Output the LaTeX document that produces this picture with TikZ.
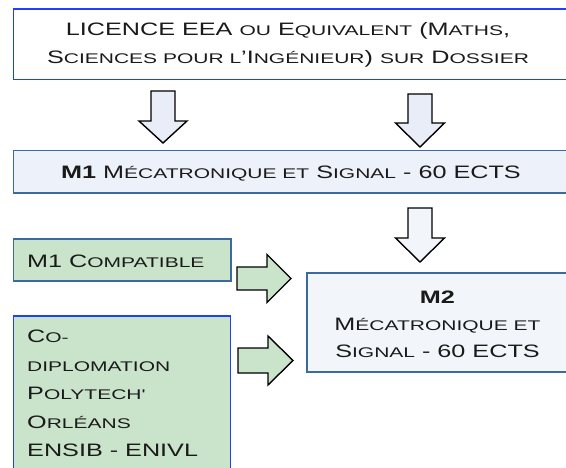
\documentclass[tikz,border=0pt]{standalone}
\usepackage{fontspec}
\setmainfont[FakeStretch=1.4]{Liberation Sans}
\newfontfamily\petitfont[FakeStretch=1.5]{Liberation Sans}
\usetikzlibrary{positioning}

\definecolor{edgeblue}{HTML}{1F3FFF}
\definecolor{edgegrey}{HTML}{3A6A9E}
\definecolor{paleblue}{HTML}{EDF1F9}
\definecolor{paleblue2}{HTML}{F2F5FA}
\definecolor{palegreen}{HTML}{C9E4CA}
\definecolor{arrowblue}{HTML}{E8EDF7}
\definecolor{inkgrey}{HTML}{1A1A1A}

\newcommand\petit[1]{{\petitfont\fontsize{14}{14}\selectfont #1}}
\newcommand\grand{\fontsize{18}{28}\selectfont}
% block arrows: centre, top, head base, tip, half shaft, half head
\newcommand\blockdown[6]{(#1-#5,#2) -- (#1+#5,#2) -- (#1+#5,#3) -- (#1+#6,#3) -- (#1,#4) -- (#1-#6,#3) -- (#1-#5,#3) -- cycle}
\newcommand\blockright[6]{(#2,#1-#5) -- (#3,#1-#5) -- (#3,#1-#6) -- (#4,#1) -- (#3,#1+#6) -- (#3,#1+#5) -- (#2,#1+#5) -- cycle}

\begin{document}
\begin{tikzpicture}[x=1pt, y=-1pt,
    box/.style={line width=1.6pt, inner sep=0pt, anchor=north west},
    bluebox/.style={box, draw=edgeblue, fill=white},
    greybox/.style={box, draw=edgegrey, fill=paleblue},
    greenbox/.style={box, draw=edgegrey, fill=palegreen},
    txt/.style={text=inkgrey, font=\grand, inner sep=0pt},
    blockarrow/.style={draw=black, line width=1.4pt, line join=miter}]
    \useasboundingbox (0,0) rectangle (566,467);
    \clip (0,0) rectangle (566,467);

    % boxes
    \node[bluebox, minimum width=560pt, minimum height=70.5pt] (licence) at (12.5,8) {};
    \node[greybox, minimum width=560pt, minimum height=42.5pt] (mone) at (12.5,149.5) {};
    \node[greenbox, minimum width=217.5pt, minimum height=42pt] (compat) at (12.5,238) {};
    \node[greenbox, draw=edgeblue, minimum width=217pt, minimum height=170pt] (codipl) at (12.5,315) {};
    \node[greybox, fill=paleblue2, minimum width=270pt, minimum height=99pt] (mtwo) at (306,272) {};

    % texts
    \node[txt, align=center] (licencetxt) at (288,44.5) {LICENCE EEA \petit{OU} E\petit{QUIVALENT} (M\petit{ATHS},\\
        S\petit{CIENCES POUR L}’I\petit{NGÉNIEUR}) \petit{SUR} D\petit{OSSIER}};
    \node[txt] (monetxt) at (291,174) {\textbf{M1} M\petit{ÉCATRONIQUE ET} S\petit{IGNAL} - 60 ECTS};
    \node[txt, anchor=west] (compattxt) at (27,261.5) {M1 C\petit{OMPATIBLE}};
    \node[txt, align=left, anchor=north west, font=\fontsize{18}{28.5}\selectfont] (codipltxt) at (27,330) {C\petit{O-}\\
        \petit{DIPLOMATION}\\P\petit{OLYTECH'}\\O\petit{RLÉANS}\\ENSIB - ENIVL};
    \node[txt, align=center, font=\fontsize{18}{27}\selectfont] (mtwotxt) at (437.5,324) {\textbf{M2}\\
        M\petit{ÉCATRONIQUE ET}\\S\petit{IGNAL} - 60 ECTS};

    % arrows
    \draw[blockarrow, fill=arrowblue] \blockdown{163}{91}{121}{143}{12}{24};
    \draw[blockarrow, fill=arrowblue] \blockdown{420}{94}{123}{147}{12}{24.5};
    \draw[blockarrow, fill=paleblue2] \blockdown{420}{208}{238}{262}{12}{24.5};
    \draw[blockarrow, fill=palegreen] \blockright{278.5}{237}{267}{291}{11.5}{24};
    \draw[blockarrow, fill=palegreen] \blockright{360.5}{238}{268}{293}{12.5}{24.5};
\end{tikzpicture}
\end{document}
